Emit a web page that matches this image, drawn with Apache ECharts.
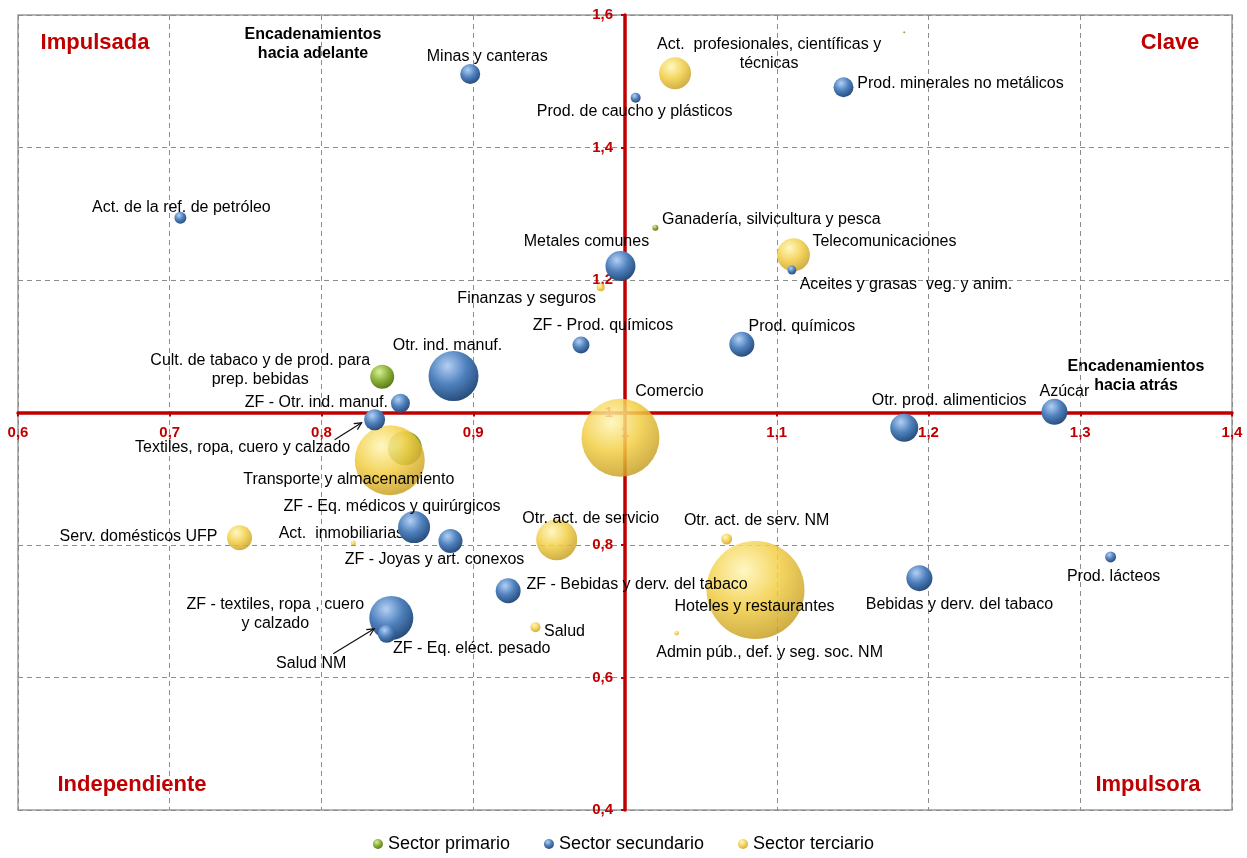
<!DOCTYPE html>
<html>
<head>
<meta charset="utf-8">
<script src="https://cdn.jsdelivr.net/npm/echarts@6/dist/echarts.min.js"></script>
<style>
html,body{margin:0;padding:0;background:#fff;}
#chart{width:1247px;height:858px;}
</style>
</head>
<body>
<div id="chart"></div>
<script>
// ---------- DATA ----------
const xTicks = [0.6, 0.7, 0.8, 0.9, 1.0, 1.1, 1.2, 1.3, 1.4];
const yTicks = [0.4, 0.6, 0.8, 1.0, 1.2, 1.4, 1.6];

const primNames = ['Cult. de tabaco y de prod. para\nprep. bebidas', 'Ganadería, silvicultura y pesca', '', ''];
const primX = [0.840, 1.020, 1.184, 0.855];
const primY = [1.054, 1.279, 1.574, 0.946];
const primSize = [1.44, 0.09, 0.01, 2.9];

const secNames = ['Minas y canteras', 'Prod. de caucho y plásticos', 'Prod. minerales no metálicos',
  'Act. de la ref. de petróleo', 'Metales comunes', 'Aceites y grasas  veg. y anim.',
  'ZF - Prod. químicos', 'Prod. químicos', 'Otr. ind. manuf.', 'ZF - Otr. ind. manuf.',
  'Textiles, ropa, cuero y calzado', 'Otr. prod. alimenticios', 'Azúcar',
  'ZF - Eq. médicos y quirúrgicos', 'ZF - Joyas y art. conexos', 'ZF - Bebidas y derv. del tabaco',
  'ZF - textiles, ropa , cuero\ny calzado', 'ZF - Eq. eléct. pesado', 'Bebidas y derv. del tabaco', 'Prod. lácteos'];
const secX = [0.898, 1.007, 1.144, 0.707, 0.997, 1.110, 0.971, 1.077, 0.887, 0.852,
  0.835, 1.184, 1.283, 0.861, 0.885, 0.923, 0.846, 0.843, 1.194, 1.320];
const secY = [1.511, 1.475, 1.491, 1.294, 1.221, 1.215, 1.102, 1.103, 1.055, 1.014,
  0.989, 0.977, 1.001, 0.827, 0.806, 0.731, 0.690, 0.666, 0.750, 0.782];
const secSize = [1.0, 0.25, 1.0, 0.36, 2.25, 0.2, 0.72, 1.56, 6.25, 0.9,
  1.1, 1.96, 1.69, 2.56, 1.44, 1.56, 4.84, 0.81, 1.69, 0.3];

const terNames = ['Act.  profesionales, científicas y\ntécnicas', 'Telecomunicaciones', 'Finanzas y seguros',
  'Comercio', 'Transporte y almacenamiento', 'Serv. domésticos UFP', 'Act.  inmobiliarias',
  'Otr. act. de servicio', 'Otr. act. de serv. NM', 'Hoteles y restaurantes', 'Salud',
  'Admin púb., def. y seg. soc. NM', 'Salud NM'];
const terX = [1.033, 1.111, 0.984, 0.997, 0.845, 0.746, 0.821, 0.955, 1.067, 1.086, 0.941, 1.034, 0.840];
const terY = [1.512, 1.238, 1.189, 0.962, 0.928, 0.811, 0.803, 0.808, 0.809, 0.732, 0.676, 0.667, 0.675];
const terSize = [2.56, 2.72, 0.16, 15.2, 12.25, 1.56, 0.06, 4.2, 0.3, 24, 0.25, 0.06, 0.09];

const legendNames = ['Sector primario', 'Sector secundario', 'Sector terciario'];

// ---------- LAYOUT (label offsets in px from bubble centre) ----------
const labelOffsets = {
  'Minas y canteras': [17, -17],
  'Prod. de caucho y plásticos': [-1, 14],
  'Prod. minerales no metálicos': [117, -4],
  'Act. de la ref. de petróleo': [1, -10],
  'Metales comunes': [-34, -24],
  'Aceites y grasas  veg. y anim.': [114, 15],
  'ZF - Prod. químicos': [22, -19],
  'Prod. químicos': [60, -18],
  'Otr. ind. manuf.': [-6, -30],
  'ZF - Otr. ind. manuf.': [-84, -1],
  'Textiles, ropa, cuero y calzado': [-132, 28],
  'Otr. prod. alimenticios': [45, -27],
  'Azúcar': [10, -20],
  'ZF - Eq. médicos y quirúrgicos': [-22, -21],
  'ZF - Joyas y art. conexos': [-16, 19],
  'ZF - Bebidas y derv. del tabaco': [129, -6],
  'ZF - textiles, ropa , cuero\ny calzado': [-116, -4],
  'ZF - Eq. eléct. pesado': [85, 15],
  'Bebidas y derv. del tabaco': [40, 26],
  'Prod. lácteos': [3, 20],
  'Act.  profesionales, científicas y\ntécnicas': [94, -19],
  'Telecomunicaciones': [91, -13],
  'Finanzas y seguros': [-74, 11],
  'Comercio': [49, -46],
  'Transporte y almacenamiento': [-41, 19],
  'Serv. domésticos UFP': [-101, -1],
  'Act.  inmobiliarias': [-12, -9],
  'Otr. act. de servicio': [34, -21],
  'Otr. act. de serv. NM': [30, -18],
  'Hoteles y restaurantes': [-1, 17],
  'Salud': [29, 4],
  'Admin púb., def. y seg. soc. NM': [93, 19],
  'Salud NM': [-71, 36],
  'Cult. de tabaco y de prod. para\nprep. bebidas': [-122, -7],
  'Ganadería, silvicultura y pesca': [116, -8]
};

const FONT = "'Liberation Sans', Arial, sans-serif";
const RED = '#C00000';

function ball(c) {
  return new echarts.graphic.RadialGradient(0.38, 0.3, 0.75, [
    { offset: 0, color: c[0] }, { offset: 0.5, color: c[1] }, { offset: 1, color: c[2] }
  ]);
}

function buildData(names, xs, ys, sizes) {
  const items = names.map((n, i) => {
    const off = labelOffsets[n] || [0, 0];
    return {
      name: n,
      value: [xs[i], ys[i], sizes[i]],
      label: { show: n !== '', offset: off }
    };
  });
  // larger bubbles first so smaller ones are drawn on top
  return items.sort((a, b) => b.value[2] - a.value[2]);
}

function makeSeries(name, names, xs, ys, sizes, colors, z) {
  return {
    name: name,
    type: 'scatter',
    z: z,
    data: buildData(names, xs, ys, sizes),
    symbolSize: v => Math.max(2, Math.sqrt(v[2]) * 20),
    itemStyle: { color: ball(colors), opacity: 1 },
    label: {
      position: 'inside',
      formatter: p => p.name,
      color: '#000',
      opacity: 1,
      textBorderWidth: 0,
      fontFamily: FONT,
      fontSize: 16,
      lineHeight: 19,
      align: 'center',
      verticalAlign: 'middle'
    },
    emphasis: { disabled: true },
    silent: true
  };
}

const fmt = v => String(Math.round(v * 10) / 10).replace('.', ',');

const chart = echarts.init(document.getElementById('chart'), null, { renderer: 'canvas' });

const GRID = { left: 18, right: 15, top: 15, bottom: 48 };
const gridW = 1247 - GRID.left - GRID.right;
const gridH = 858 - GRID.top - GRID.bottom;

const baseGraphic = [
  { type: 'text', id: 'q1', x: 95, y: 43, style: { text: 'Impulsada', fill: RED, font: 'bold 22px ' + FONT, align: 'center', verticalAlign: 'middle' } },
  { type: 'text', id: 'q2', x: 1170, y: 43, style: { text: 'Clave', fill: RED, font: 'bold 22px ' + FONT, align: 'center', verticalAlign: 'middle' } },
  { type: 'text', id: 'q3', x: 132, y: 785, style: { text: 'Independiente', fill: RED, font: 'bold 22px ' + FONT, align: 'center', verticalAlign: 'middle' } },
  { type: 'text', id: 'q4', x: 1148, y: 785, style: { text: 'Impulsora', fill: RED, font: 'bold 22px ' + FONT, align: 'center', verticalAlign: 'middle' } },
  { type: 'text', id: 'e1', x: 313, y: 44, style: { text: 'Encadenamientos\nhacia adelante', fill: '#000', font: 'bold 16px ' + FONT, lineHeight: 19, align: 'center', verticalAlign: 'middle' } },
  { type: 'text', id: 'e2', x: 1136, y: 376, style: { text: 'Encadenamientos\nhacia atrás', fill: '#000', font: 'bold 16px ' + FONT, lineHeight: 19, align: 'center', verticalAlign: 'middle' } }
];

const option = {
  animation: false,
  backgroundColor: '#fff',
  grid: { left: GRID.left, right: GRID.right, top: GRID.top, bottom: GRID.bottom, show: true, borderColor: '#9a9a9a', borderWidth: 1.5, backgroundColor: 'transparent' },
  legend: {
    data: legendNames,
    bottom: 0,
    left: 'center',
    icon: 'circle',
    itemWidth: 10,
    itemHeight: 10,
    itemGap: 34,
    textStyle: { fontFamily: FONT, fontSize: 18, color: '#000' }
  },
  xAxis: {
    type: 'value',
    min: xTicks[0], max: xTicks[xTicks.length - 1], interval: 0.1,
    position: 'bottom',
    offset: -gridH / 2,
    axisLine: { show: true, onZero: false, lineStyle: { color: RED, width: 3.5 } },
    axisTick: { show: true, length: 4, lineStyle: { color: RED, width: 2 } },
    axisLabel: { color: RED, fontWeight: 'bold', fontFamily: FONT, fontSize: 15, margin: 13, formatter: fmt, showMinLabel: true, showMaxLabel: true },
    splitLine: { show: true, lineStyle: { color: '#8c8c8c', type: [5, 4], width: 1 } },
    z: 1
  },
  yAxis: {
    type: 'value',
    min: yTicks[0], max: yTicks[yTicks.length - 1], interval: 0.2,
    position: 'left',
    offset: -gridW / 2,
    axisLine: { show: true, onZero: false, lineStyle: { color: RED, width: 3.5 } },
    axisTick: { show: true, length: 4, lineStyle: { color: RED, width: 2 } },
    axisLabel: { color: RED, fontWeight: 'bold', fontFamily: FONT, fontSize: 15, margin: 12, formatter: fmt, showMinLabel: true, showMaxLabel: true },
    splitLine: { show: true, lineStyle: { color: '#8c8c8c', type: [5, 4], width: 1 } },
    z: 1
  },
  graphic: baseGraphic,
  series: [
    makeSeries(legendNames[0], primNames, primX, primY, primSize, ['#D9EE9A', '#8DB33A', '#56741A'], 3),
    makeSeries(legendNames[2], terNames, terX, terY, terSize, ['rgba(255,246,184,0.85)', 'rgba(242,206,69,0.85)', 'rgba(196,156,36,0.85)'], 4),
    makeSeries(legendNames[1], secNames, secX, secY, secSize, ['#B3D0F4', '#4F81BD', '#244877'], 5)
  ]
};
chart.setOption(option);

// arrows from labels to small bubbles (anchored to the bubbles' data positions)
function arrow(id, px, tail, head) {
  const x1 = px[0] + tail[0], y1 = px[1] + tail[1];
  const x2 = px[0] + head[0], y2 = px[1] + head[1];
  const ang = Math.atan2(y2 - y1, x2 - x1);
  const L = 8, A = 0.45;
  return [
    { type: 'line', id: id + 'a', z: 100, shape: { x1, y1, x2, y2 }, style: { stroke: '#111', lineWidth: 1.2 } },
    { type: 'polyline', id: id + 'b', z: 100, shape: { points: [
      [x2 - L * Math.cos(ang - A), y2 - L * Math.sin(ang - A)], [x2, y2],
      [x2 - L * Math.cos(ang + A), y2 - L * Math.sin(ang + A)]] }, style: { stroke: '#111', lineWidth: 1.2, fill: null } }
  ];
}
const iTex = secNames.indexOf('Textiles, ropa, cuero y calzado');
const iSNM = terNames.indexOf('Salud NM');
const pTex = chart.convertToPixel({ xAxisIndex: 0, yAxisIndex: 0 }, [secX[iTex], secY[iTex]]);
const pSNM = chart.convertToPixel({ xAxisIndex: 0, yAxisIndex: 0 }, [terX[iSNM], terY[iSNM]]);
chart.setOption({
  graphic: baseGraphic
    .concat(arrow('ar1', pTex, [-40, 20], [-13, 3]))
    .concat(arrow('ar2', pSNM, [-49, 26], [-8, 1]))
});
</script>
</body>
</html>
